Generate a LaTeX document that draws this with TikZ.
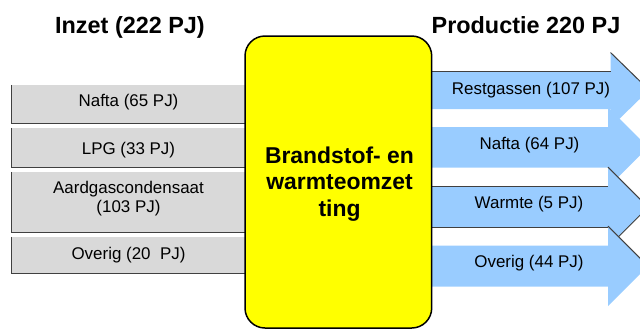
\documentclass[tikz,border=0pt]{standalone}
\usepackage{fontspec}
\setmainfont{Liberation Sans}
\definecolor{boxgray}{RGB}{217,217,217}
\definecolor{edgegray}{RGB}{64,64,64}
\definecolor{flowblue}{RGB}{153,204,255}
\definecolor{convyellow}{RGB}{255,255,0}
\begin{document}
\begin{tikzpicture}[x=1bp,y=-1bp,
  lbl/.style={font=\fontsize{17}{19}\selectfont, inner sep=0pt, anchor=base},
  ttl/.style={font=\fontsize{23.5}{28}\selectfont\bfseries, inner sep=0pt, anchor=base},
  inbox/.style={fill=boxgray, draw=none, inner sep=0pt, minimum width=233bp},
  rim/.style={draw=edgegray, line width=1bp},
  flow/.style={fill=flowblue, draw=none},
  conv/.style={draw=black, line width=1.5bp, fill=convyellow, rounded corners=20bp,
               inner sep=0pt, minimum width=186.7bp, minimum height=292bp}]
\useasboundingbox (0,0) rectangle (640,332);
\clip (0,0) rectangle (640,332);

% titles
\node[ttl] (tin) at (130,33.3) {Inzet (222 PJ)};
\node[ttl] (tout) at (526,33.3) {Productie 220 PJ};

% input boxes
\node[inbox, minimum height=38bp] (in1) at (128.5,104) {};
\node[inbox, minimum height=39bp] (in2) at (128.5,147.5) {};
\node[inbox, minimum height=60bp] (in3) at (128.5,202) {};
\node[inbox, minimum height=36bp] (in4) at (128.5,255) {};
\foreach \n in {in1,in2,in3,in4}
  \draw[rim] (\n.north west) -- (\n.south west) -- (\n.south east);

\node[lbl] (l1) at (128.5,106.7) {Nafta (65 PJ)};
\node[lbl] (l2) at (128.5,154.3) {LPG (33 PJ)};
\node[font=\fontsize{17}{19}\selectfont, inner sep=0pt, align=center] (l3) at (128.5,198.5) {Aardgascondensaat\\(103 PJ)};
\node[lbl] (l4) at (128.5,259.3) {Overig (20\ \ PJ)};

% output arrows
\path[flow] (420,71) -- (610.5,71) -- (610.5,52.5) -- (649,90) -- (610.5,127.5) -- (610.5,109) -- (420,109) -- cycle;
\draw[rim] (420,71) -- (610.5,71);
\draw[rim] (610.5,52.5) -- (649,90);

\path[flow] (420,127) -- (608,127) -- (608,107.25) -- (648,147.25) -- (608,187.25) -- (608,167.5) -- (420,167.5) -- cycle;

\path[flow] (420,186.7) -- (608,186.7) -- (608,167.2) -- (648,207.2) -- (608,247.2) -- (608,227.7) -- (420,227.7) -- cycle;
\draw[rim] (420,186.7) -- (608,186.7);
\draw[rim] (420,227.7) -- (608,227.7);
\draw[rim] (608,167.2) -- (648,207.2) -- (608,247.2);

\path[flow] (420,245.7) -- (608,245.7) -- (608,226.2) -- (648,266.2) -- (608,306.2) -- (608,286.7) -- (420,286.7) -- cycle;
\draw[rim] (608,226.2) -- (648,266.2);

\node[lbl] (r1) at (531,94) {Restgassen (107 PJ)};
\node[lbl] (r2) at (529.5,149.3) {Nafta (64 PJ)};
\node[lbl] (r3) at (529,208.3) {Warmte (5 PJ)};
\node[lbl] (r4) at (529,267.3) {Overig (44 PJ)};

% conversion block
\node[conv] (cv) at (338.35,182) {};
\node[font=\fontsize{23}{26.5}\selectfont\bfseries, inner sep=0pt, align=center] (cvt) at (339.5,183.8) {Brandstof- en\\warmteomzet\\ting};
\end{tikzpicture}
\end{document}
